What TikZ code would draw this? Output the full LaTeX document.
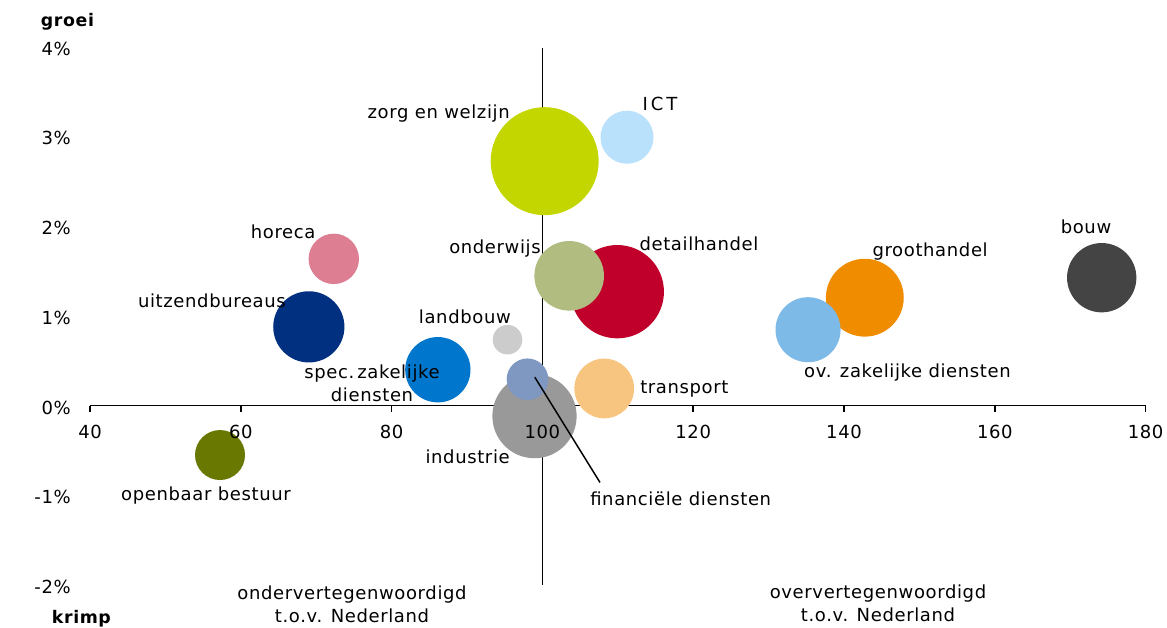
\documentclass[tikz,border=0pt]{standalone}
\usepackage{fontspec}
\setmainfont{DejaVu Sans}[LetterSpace=3.5]
\usepackage{tikz}
\usetikzlibrary{calc}
\definecolor{kleurZorg}{HTML}{C4D600}
\definecolor{kleurICT}{HTML}{BAE1FB}
\definecolor{kleurHoreca}{HTML}{DE7E92}
\definecolor{kleurUitzend}{HTML}{00307F}
\definecolor{kleurLandbouw}{HTML}{CCCCCC}
\definecolor{kleurSpec}{HTML}{0077CC}
\definecolor{kleurDetail}{HTML}{C0002B}
\definecolor{kleurOnderwijs}{HTML}{B0BC80}
\definecolor{kleurIndustrie}{HTML}{999999}
\definecolor{kleurFin}{HTML}{7E98C2}
\definecolor{kleurTransport}{HTML}{F7C580}
\definecolor{kleurGroot}{HTML}{F08C00}
\definecolor{kleurOv}{HTML}{7DBAE7}
\definecolor{kleurBouw}{HTML}{444444}
\definecolor{kleurBestuur}{HTML}{697800}
\tikzset{
  bel/.style={circle, inner sep=0pt, draw=none, minimum size=#1},
  lbl/.style={inner sep=0pt, text=black, font=\fontsize{13.5}{17.3}\selectfont},
  as/.style={line width=1.2pt, black}
}

\begin{document}
\begin{tikzpicture}[x=5.655pt, y=67.275pt]
    % Parameters
    \pgfmathsetmacro{\xmin}{40}
    \pgfmathsetmacro{\xmax}{180}
    \pgfmathsetmacro{\ymin}{-2}
    \pgfmathsetmacro{\ymax}{3.986}
    \pgfmathsetmacro{\xas}{100}
    \pgfmathsetmacro{\ylab}{37.48}
    \useasboundingbox (28.06,-2.480) rectangle (182.84,4.521);
    % Assen
    \draw[as] (\xmin,0) -- (\xmax,0);
    \foreach \xx in {40,60,...,180}
        \draw[as] (\xx,0) -- ++(0,-4.5pt);
    \draw[as] (\xas,\ymin) -- (\xas,\ymax);
    % Bellen
    \node[bel=81pt, fill=kleurZorg] (zorg) at (100.30,2.724) {};
    \node[bel=39.8pt, fill=kleurICT] (ict) at (111.22,2.991) {};
    \node[bel=37.8pt, fill=kleurHoreca] (horeca) at (72.33,1.635) {};
    \node[bel=53.4pt, fill=kleurUitzend] (uitzend) at (69.02,0.877) {};
    \node[bel=22.2pt, fill=kleurLandbouw] (landbouw) at (95.37,0.734) {};
    \node[bel=49pt, fill=kleurSpec] (spec) at (86.13,0.399) {};
    \node[bel=70pt, fill=kleurDetail] (detail) at (109.93,1.269) {};
    \node[bel=52.2pt, fill=kleurOnderwijs] (onderwijs) at (103.55,1.446) {};
    \node[bel=63.2pt, fill=kleurIndustrie] (industrie) at (98.95,-0.118) {};
    \node[bel=31.2pt, fill=kleurFin] (fin) at (98.02,0.293) {};
    \node[bel=44.8pt, fill=kleurTransport] (transport) at (108.20,0.190) {};
    \node[bel=58.4pt, fill=kleurGroot] (groot) at (142.76,1.202) {};
    \node[bel=48.8pt, fill=kleurOv] (ov) at (135.23,0.845) {};
    \node[bel=52pt, fill=kleurBouw] (bouw) at (174.18,1.425) {};
    \node[bel=37.5pt, fill=kleurBestuur] (bestuur) at (57.24,-0.552) {};
    % Aslabels
    \foreach \xx in {40,60,...,180}
        \node[lbl, yshift=-19.5pt] (x\xx) at (\xx,0) {\xx};
    \foreach \yy in {-2,...,4}
        \node[lbl, anchor=east, yshift=-1.5pt] (y\yy) at (\ylab,\yy) {\yy\%};
    \node[lbl, anchor=west, font=\fontsize{13}{16}\selectfont\bfseries] (groei) at (33.46,4.278) {groei};
    \node[lbl, anchor=west, font=\fontsize{13}{16}\selectfont\bfseries] (krimp) at (34.92,-2.372) {krimp};
    % Labels bij de bellen
    \node[lbl, anchor=east] (zorglab) at (95.70,3.258) {zorg en welzijn};
    \node[lbl, anchor=west] (ictlab) at (113.25,3.361) {I\,C\,T};
    \node[lbl, anchor=east] (onderwijslab) at (99.81,1.753) {onderwijs};
    \node[lbl, anchor=west] (detaillab) at (112.85,1.808) {detailhandel};
    \node[lbl, anchor=east] (horecalab) at (69.93,1.938) {horeca};
    \node[lbl, anchor=east] (uitzendlab) at (66.00,1.165) {uitzendbureaus};
    \node[lbl, anchor=east] (landbouwlab) at (95.84,0.990) {landbouw};
    \node[lbl, align=center] (speclab) at (77.40,0.247) {spec.\,zakelijke\\diensten};
    \node[lbl, anchor=east] (industrielab) at (95.70,-0.571) {industrie};
    \node[lbl, anchor=west] (transportlab) at (112.94,0.181) {transport};
    \node[lbl, anchor=west] (finlab) at (106.31,-1.035) {financiële diensten};
    \node[lbl, anchor=west] (grootlab) at (143.75,1.715) {groothandel};
    \node[lbl] (bouwlab) at (172.10,1.987) {bouw};
    \node[lbl, anchor=west] (ovlab) at (134.69,0.366) {ov. zakelijke diensten};
    \node[lbl] (bestuurlab) at (55.38,-0.998) {openbaar bestuur};
    \node[lbl, align=center] (onder) at (74.75,-2.213) {ondervertegenwoordigd\\t.o.v. Nederland};
    \node[lbl, align=center] (boven) at (144.51,-2.202) {oververtegenwoordigd\\t.o.v. Nederland};
    % Verwijslijn
    \coordinate (finstart) at ($(fin.center)+(5.5pt,1.5pt)$);
    \coordinate (finend) at ($(finlab.north west)+(7.5pt,6.5pt)$);
    \draw[line width=1.1pt] (finstart) -- (finend);
\end{tikzpicture}
\end{document}
